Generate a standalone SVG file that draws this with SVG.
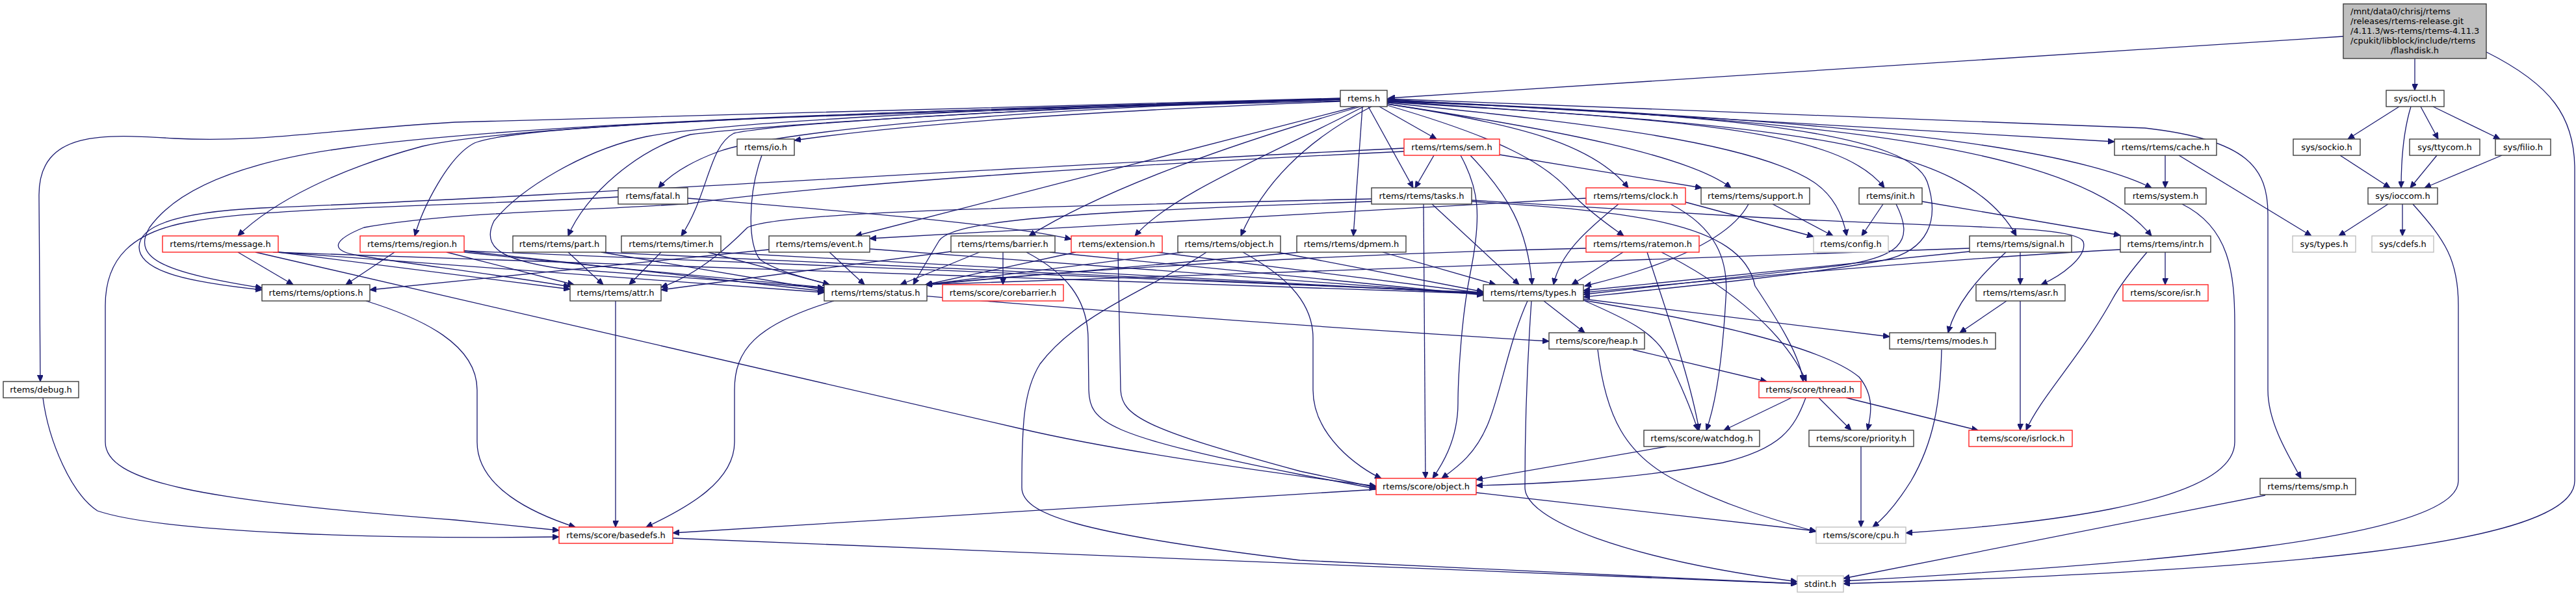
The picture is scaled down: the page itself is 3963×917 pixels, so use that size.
<svg xmlns="http://www.w3.org/2000/svg" width="3963" height="917" viewBox="0 0 3963 917">
<style>
.n rect{fill:#fff;stroke:#3c3c3c;stroke-width:1.4}
.n.r rect{stroke:#ff2020}
.n.g rect{stroke:#bfbfbf}
.n.root rect{fill:#bfbfbf}
text{font-family:"DejaVu Sans","Liberation Sans",sans-serif;font-size:13px;fill:#000;text-anchor:middle}
text.l{text-anchor:start}
#edges path{fill:none;stroke:#191970;stroke-width:1.3;marker-end:url(#a)}
</style>
<defs>
<marker id="a" markerWidth="11" markerHeight="9" refX="10" refY="4.5" orient="auto" markerUnits="userSpaceOnUse">
<path d="M0,0 L10,4.5 L0,9 z" fill="#191970" stroke="#191970" stroke-width="1"/>
</marker>
</defs>
<rect width="3963" height="917" fill="#fff"/>
<g id="edges">
<path d="M3605,56 L2136,151"/>
<path d="M3715,90 L3715,139"/>
<path d="M3825,80 C3925,130 3961,180 3961,260 L3961,740 C3961,840 3500,878 2836,898"/>
<path d="M3691,164 L3612,214"/>
<path d="M3709,164 C3698,200 3694,240 3694,289"/>
<path d="M3724,164 L3751,214"/>
<path d="M3743,164 L3846,214"/>
<path d="M3600,239 L3677,289"/>
<path d="M3749,239 L3708,289"/>
<path d="M3849,239 L3730,289"/>
<path d="M3674,314 L3598,363"/>
<path d="M3696,314 L3696,363"/>
<path d="M3712,314 C3762,370 3782,400 3782,470 L3782,740 C3782,830 3300,868 2836,894"/>
<path d="M3331,239 L3331,289"/>
<path d="M3352,239 L3556,363"/>
<path d="M3357,314 C3430,350 3438,420 3438,500 L3438,680 C3438,780 3100,808 2932,820"/>
<path d="M3331,388 L3331,438"/>
<path d="M3303,388 C3280,415 3262,438 3250,460 C3200,550 3140,610 3117,662"/>
<path d="M3262,384 C3000,398 2700,425 2436,450"/>
<path d="M3087,463 L3015,512"/>
<path d="M3108,463 L3108,662"/>
<path d="M3108,388 L3108,438"/>
<path d="M3086,388 C3040,430 3008,470 2997,512"/>
<path d="M3030,382 L1424,438"/>
<path d="M3030,387 L2436,447"/>
<path d="M2897,314 L2864,363"/>
<path d="M2957,310 L3262,362"/>
<path d="M2917,314 C2945,370 2930,400 2800,412 L2436,453"/>
<path d="M2727,314 L2820,363"/>
<path d="M2690,314 C2660,370 2560,410 2438,440"/>
<path d="M2134,153 L3253,218"/>
<path d="M2134,154 C2700,180 3150,210 3310,289"/>
<path d="M2134,155 C2850,185 3200,230 3310,363"/>
<path d="M2134,156 C2750,195 3020,215 3102,363"/>
<path d="M2134,157 C2600,185 2830,200 2899,289"/>
<path d="M2134,158 C2450,190 2700,220 2790,280 C2820,300 2835,330 2841,363"/>
<path d="M2134,152 L3300,197 C3460,215 3489,260 3489,330 L3489,600 C3489,650 3520,700 3540,736"/>
<path d="M2134,160 C2400,200 2600,240 2663,289"/>
<path d="M2134,160 C2330,190 2450,220 2505,289"/>
<path d="M2134,162 C2300,210 2380,250 2420,300 C2450,330 2480,350 2498,363"/>
<path d="M2122,164 L2210,214"/>
<path d="M2105,164 L2174,289"/>
<path d="M2096,164 L2082,363"/>
<path d="M2134,156 C2700,175 2940,210 2965,280 C2985,340 2965,385 2900,400 C2800,420 2600,440 2436,457"/>
<path d="M2062,151 L700,188 C500,200 400,220 268,213 C160,206 60,200 60,300 L62,587"/>
<path d="M2062,153 C1400,170 800,190 650,225 C520,260 420,310 366,363"/>
<path d="M2062,155 C1300,175 800,190 730,220 C690,240 650,320 638,363"/>
<path d="M2062,152 C1400,170 800,190 536,227 C400,245 280,280 230,350 C200,400 260,420 403,443"/>
<path d="M2062,152 C1700,160 1200,190 1062,207 C980,230 900,300 874,363"/>
<path d="M2062,153 C1600,165 1200,200 1106,233 C1060,250 1030,270 1013,289"/>
<path d="M2062,153 C1600,165 1200,190 1129,205 C1090,225 1090,300 1048,363"/>
<path d="M2062,156 C1700,170 1400,190 1222,216"/>
<path d="M2087,164 L1316,363"/>
<path d="M2093,164 C1900,220 1700,290 1583,363"/>
<path d="M2098,164 C1950,240 1800,300 1746,363"/>
<path d="M2110,164 C2000,220 1940,290 1909,363"/>
<path d="M2062,153 C1500,165 1100,190 995,210 C900,230 800,290 760,340 C740,380 770,400 861,413 L1268,443"/>
<path d="M2206,239 L2177,289"/>
<path d="M2247,239 C2275,290 2280,330 2262,420 C2246,500 2243,600 2243,620 C2243,680 2215,720 2204,736"/>
<path d="M2262,239 C2320,300 2350,350 2357,438"/>
<path d="M2307,238 L2618,289"/>
<path d="M2160,228 C1500,260 900,300 402,320 C300,325 214,340 214,380 C214,420 300,435 403,446"/>
<path d="M2160,233 C1800,250 1300,280 1062,313 C900,325 700,325 560,350 C510,370 510,385 545,392 C620,405 750,420 877,441"/>
<path d="M2190,314 L2193,736"/>
<path d="M2203,314 L2337,438"/>
<path d="M2264,308 L2680,333 C3000,352 3195,345 3205,372 C3212,395 3170,425 3140,438"/>
<path d="M2110,306 C1600,318 1200,325 1150,350 C1130,370 1080,420 1017,442"/>
<path d="M2110,310 C1700,325 1470,335 1445,370 C1430,395 1415,420 1405,438"/>
<path d="M2264,310 C2500,325 2680,340 2700,440 C2740,500 2770,550 2774,587"/>
<path d="M2440,305 L1338,367"/>
<path d="M2490,314 C2440,355 2400,390 2390,438"/>
<path d="M2570,314 C2640,350 2660,400 2655,460 C2650,550 2640,620 2625,662"/>
<path d="M2593,311 L2790,364"/>
<path d="M2497,388 L2418,438"/>
<path d="M2534,388 C2560,470 2600,580 2614,662"/>
<path d="M2556,388 C2640,430 2740,500 2779,587"/>
<path d="M2440,382 C2000,392 1600,420 1424,438"/>
<path d="M2127,388 L2301,438"/>
<path d="M2000,388 L1424,438"/>
<path d="M1965,388 L2282,449"/>
<path d="M1820,388 L1424,438"/>
<path d="M1912,388 C1970,420 2020,460 2020,520 L2020,600 C2020,670 2090,720 2125,736"/>
<path d="M1856,388 C1780,440 1660,480 1600,560 C1575,600 1572,650 1572,750 C1572,790 1650,820 2000,862 L2765,898"/>
<path d="M1720,388 L1724,600 C1726,640 1760,660 2000,725 L2117,750"/>
<path d="M1655,388 L1424,438"/>
<path d="M1780,388 L2282,451"/>
<path d="M1543,388 L1543,438"/>
<path d="M1507,388 L1385,438"/>
<path d="M1579,388 C1640,420 1673,460 1674,520 L1675,600 C1676,650 1700,670 2000,730 L2117,752"/>
<path d="M1615,388 L2282,454"/>
<path d="M1463,387 L1017,446"/>
<path d="M1276,388 L1330,438"/>
<path d="M1183,384 L569,446"/>
<path d="M1338,383 L2282,453"/>
<path d="M1017,388 L968,438"/>
<path d="M1089,388 L1276,438"/>
<path d="M1100,388 L2282,452"/>
<path d="M874,388 L928,438"/>
<path d="M925,388 L1268,446"/>
<path d="M925,388 L2282,451"/>
<path d="M607,388 L532,438"/>
<path d="M687,388 L883,438"/>
<path d="M714,386 L1268,448"/>
<path d="M714,386 L2282,450"/>
<path d="M714,388 C1200,440 1800,490 2383,525"/>
<path d="M366,388 L451,438"/>
<path d="M428,388 L877,445"/>
<path d="M428,388 L1268,450"/>
<path d="M420,388 L2282,452"/>
<path d="M393,388 L1572,660 C1700,690 1900,720 2117,748"/>
<path d="M1172,239 C1150,300 1150,380 1170,400 C1200,420 1250,430 1276,438"/>
<path d="M1058,305 C1300,325 1550,345 1648,368"/>
<path d="M951,303 C700,317 400,320 300,340 C200,355 162,400 162,470 L162,680 C162,740 300,770 700,800 L860,816"/>
<path d="M66,612 C75,680 110,760 150,786 C250,820 600,830 860,826"/>
<path d="M563,463 C650,490 734,530 734,600 L734,680 C734,750 820,790 885,811"/>
<path d="M947,463 L947,811"/>
<path d="M1283,463 C1160,500 1130,540 1130,600 L1130,680 C1130,740 1060,780 994,811"/>
<path d="M2117,753 L1035,820"/>
<path d="M2271,758 L2794,817"/>
<path d="M1035,828 L2765,898"/>
<path d="M2375,463 L2438,512"/>
<path d="M2350,463 C2320,530 2310,600 2290,650 C2270,700 2240,720 2218,736"/>
<path d="M2356,463 C2350,550 2346,650 2346,750 C2346,800 2500,860 2765,895"/>
<path d="M2436,462 C2500,490 2545,510 2565,550 C2590,600 2605,640 2612,662"/>
<path d="M2436,460 L2907,518"/>
<path d="M2436,462 C2600,490 2800,530 2860,580 C2885,610 2878,640 2873,662"/>
<path d="M2512,538 L2718,587"/>
<path d="M2458,538 C2470,640 2500,700 2580,740 C2660,780 2730,800 2794,818"/>
<path d="M2987,538 C2985,620 2975,680 2940,740 C2915,780 2895,800 2881,811"/>
<path d="M2756,612 L2652,662"/>
<path d="M2798,612 L2848,662"/>
<path d="M2840,612 L3043,662"/>
<path d="M2778,612 C2760,660 2740,690 2650,712 C2500,740 2350,745 2271,747"/>
<path d="M2564,687 L2271,738"/>
<path d="M2863,687 L2863,811"/>
<path d="M3485,762 L2836,890"/>
</g>
<g id="n_root" class="n root"><rect x="3605" y="6" width="220" height="84"/>
<text class="l" x="3616" y="22">/mnt/data0/chrisj/rtems</text>
<text class="l" x="3616" y="37">/releases/rtems-release.git</text>
<text class="l" x="3616" y="51.5">/4.11.3/ws-rtems/rtems-4.11.3</text>
<text class="l" x="3616" y="66.5">/cpukit/libblock/include/rtems</text>
<text x="3715" y="81.5">/flashdisk.h</text></g>
<g id="n_rtems" class="n"><rect x="2062" y="139" width="72" height="25"/><text x="2098" y="156">rtems.h</text></g>
<g id="n_ioctl" class="n"><rect x="3671" y="139" width="89" height="25"/><text x="3715.5" y="156">sys/ioctl.h</text></g>
<g id="n_io" class="n"><rect x="1134" y="214" width="88" height="25"/><text x="1178" y="231">rtems/io.h</text></g>
<g id="n_sem" class="n r"><rect x="2160" y="214" width="147" height="25"/><text x="2233.5" y="231">rtems/rtems/sem.h</text></g>
<g id="n_cache" class="n"><rect x="3253" y="214" width="157" height="25"/><text x="3331.5" y="231">rtems/rtems/cache.h</text></g>
<g id="n_sockio" class="n"><rect x="3528" y="214" width="103" height="25"/><text x="3579.5" y="231">sys/sockio.h</text></g>
<g id="n_ttycom" class="n"><rect x="3707" y="214" width="108" height="25"/><text x="3761" y="231">sys/ttycom.h</text></g>
<g id="n_filio" class="n"><rect x="3839" y="214" width="85" height="25"/><text x="3881.5" y="231">sys/filio.h</text></g>
<g id="n_fatal" class="n"><rect x="951" y="289" width="107" height="25"/><text x="1004.5" y="306">rtems/fatal.h</text></g>
<g id="n_tasks" class="n"><rect x="2110" y="289" width="154" height="25"/><text x="2187" y="306">rtems/rtems/tasks.h</text></g>
<g id="n_clock" class="n r"><rect x="2440" y="289" width="153" height="25"/><text x="2516.5" y="306">rtems/rtems/clock.h</text></g>
<g id="n_support" class="n"><rect x="2617" y="289" width="167" height="25"/><text x="2700.5" y="306">rtems/rtems/support.h</text></g>
<g id="n_init" class="n"><rect x="2860" y="289" width="97" height="25"/><text x="2908.5" y="306">rtems/init.h</text></g>
<g id="n_system" class="n"><rect x="3269" y="289" width="125" height="25"/><text x="3331.5" y="306">rtems/system.h</text></g>
<g id="n_ioccom" class="n"><rect x="3643" y="289" width="107" height="25"/><text x="3696.5" y="306">sys/ioccom.h</text></g>
<g id="n_message" class="n r"><rect x="250" y="363" width="178" height="25"/><text x="339" y="380">rtems/rtems/message.h</text></g>
<g id="n_region" class="n r"><rect x="554" y="363" width="160" height="25"/><text x="634" y="380">rtems/rtems/region.h</text></g>
<g id="n_part" class="n"><rect x="789" y="363" width="143" height="25"/><text x="860.5" y="380">rtems/rtems/part.h</text></g>
<g id="n_timer" class="n"><rect x="956" y="363" width="153" height="25"/><text x="1032.5" y="380">rtems/rtems/timer.h</text></g>
<g id="n_event" class="n"><rect x="1183" y="363" width="155" height="25"/><text x="1260.5" y="380">rtems/rtems/event.h</text></g>
<g id="n_barrier" class="n"><rect x="1463" y="363" width="160" height="25"/><text x="1543" y="380">rtems/rtems/barrier.h</text></g>
<g id="n_extension" class="n r"><rect x="1648" y="363" width="140" height="25"/><text x="1718" y="380">rtems/extension.h</text></g>
<g id="n_rtobject" class="n"><rect x="1812" y="363" width="158" height="25"/><text x="1891" y="380">rtems/rtems/object.h</text></g>
<g id="n_dpmem" class="n"><rect x="1995" y="363" width="168" height="25"/><text x="2079" y="380">rtems/rtems/dpmem.h</text></g>
<g id="n_ratemon" class="n r"><rect x="2440" y="363" width="174" height="25"/><text x="2527" y="380">rtems/rtems/ratemon.h</text></g>
<g id="n_config" class="n g"><rect x="2790" y="363" width="115" height="25"/><text x="2847.5" y="380">rtems/config.h</text></g>
<g id="n_signal" class="n"><rect x="3030" y="363" width="157" height="25"/><text x="3108.5" y="380">rtems/rtems/signal.h</text></g>
<g id="n_intr" class="n"><rect x="3262" y="363" width="139" height="25"/><text x="3331.5" y="380">rtems/rtems/intr.h</text></g>
<g id="n_systypes" class="n g"><rect x="3527" y="363" width="97" height="25"/><text x="3575.5" y="380">sys/types.h</text></g>
<g id="n_cdefs" class="n g"><rect x="3649" y="363" width="95" height="25"/><text x="3696.5" y="380">sys/cdefs.h</text></g>
<g id="n_options" class="n"><rect x="403" y="438" width="166" height="25"/><text x="486" y="455">rtems/rtems/options.h</text></g>
<g id="n_attr" class="n"><rect x="877" y="438" width="140" height="25"/><text x="947" y="455">rtems/rtems/attr.h</text></g>
<g id="n_status" class="n"><rect x="1268" y="438" width="158" height="25"/><text x="1347" y="455">rtems/rtems/status.h</text></g>
<g id="n_corebarrier" class="n r"><rect x="1450" y="438" width="186" height="25"/><text x="1543" y="455">rtems/score/corebarrier.h</text></g>
<g id="n_types" class="n"><rect x="2282" y="438" width="154" height="25"/><text x="2359" y="455">rtems/rtems/types.h</text></g>
<g id="n_asr" class="n"><rect x="3040" y="438" width="137" height="25"/><text x="3108.5" y="455">rtems/rtems/asr.h</text></g>
<g id="n_isr" class="n r"><rect x="3266" y="438" width="131" height="25"/><text x="3331.5" y="455">rtems/score/isr.h</text></g>
<g id="n_heap" class="n"><rect x="2383" y="512" width="147" height="25"/><text x="2456.5" y="529">rtems/score/heap.h</text></g>
<g id="n_modes" class="n"><rect x="2907" y="512" width="163" height="25"/><text x="2988.5" y="529">rtems/rtems/modes.h</text></g>
<g id="n_debug" class="n"><rect x="5" y="587" width="116" height="25"/><text x="63" y="604">rtems/debug.h</text></g>
<g id="n_thread" class="n r"><rect x="2706" y="587" width="157" height="25"/><text x="2784.5" y="604">rtems/score/thread.h</text></g>
<g id="n_watchdog" class="n"><rect x="2529" y="662" width="178" height="25"/><text x="2618" y="679">rtems/score/watchdog.h</text></g>
<g id="n_priority" class="n"><rect x="2783" y="662" width="161" height="25"/><text x="2863.5" y="679">rtems/score/priority.h</text></g>
<g id="n_isrlock" class="n r"><rect x="3029" y="662" width="159" height="25"/><text x="3108.5" y="679">rtems/score/isrlock.h</text></g>
<g id="n_scoreobject" class="n r"><rect x="2117" y="736" width="154" height="25"/><text x="2194" y="753">rtems/score/object.h</text></g>
<g id="n_smp" class="n"><rect x="3477" y="736" width="147" height="25"/><text x="3550.5" y="753">rtems/rtems/smp.h</text></g>
<g id="n_basedefs" class="n r"><rect x="860" y="811" width="175" height="25"/><text x="947.5" y="828">rtems/score/basedefs.h</text></g>
<g id="n_cpu" class="n g"><rect x="2794" y="811" width="138" height="25"/><text x="2863" y="828">rtems/score/cpu.h</text></g>
<g id="n_stdint" class="n g"><rect x="2765" y="886" width="71" height="25"/><text x="2800.5" y="903">stdint.h</text></g>
</svg>
